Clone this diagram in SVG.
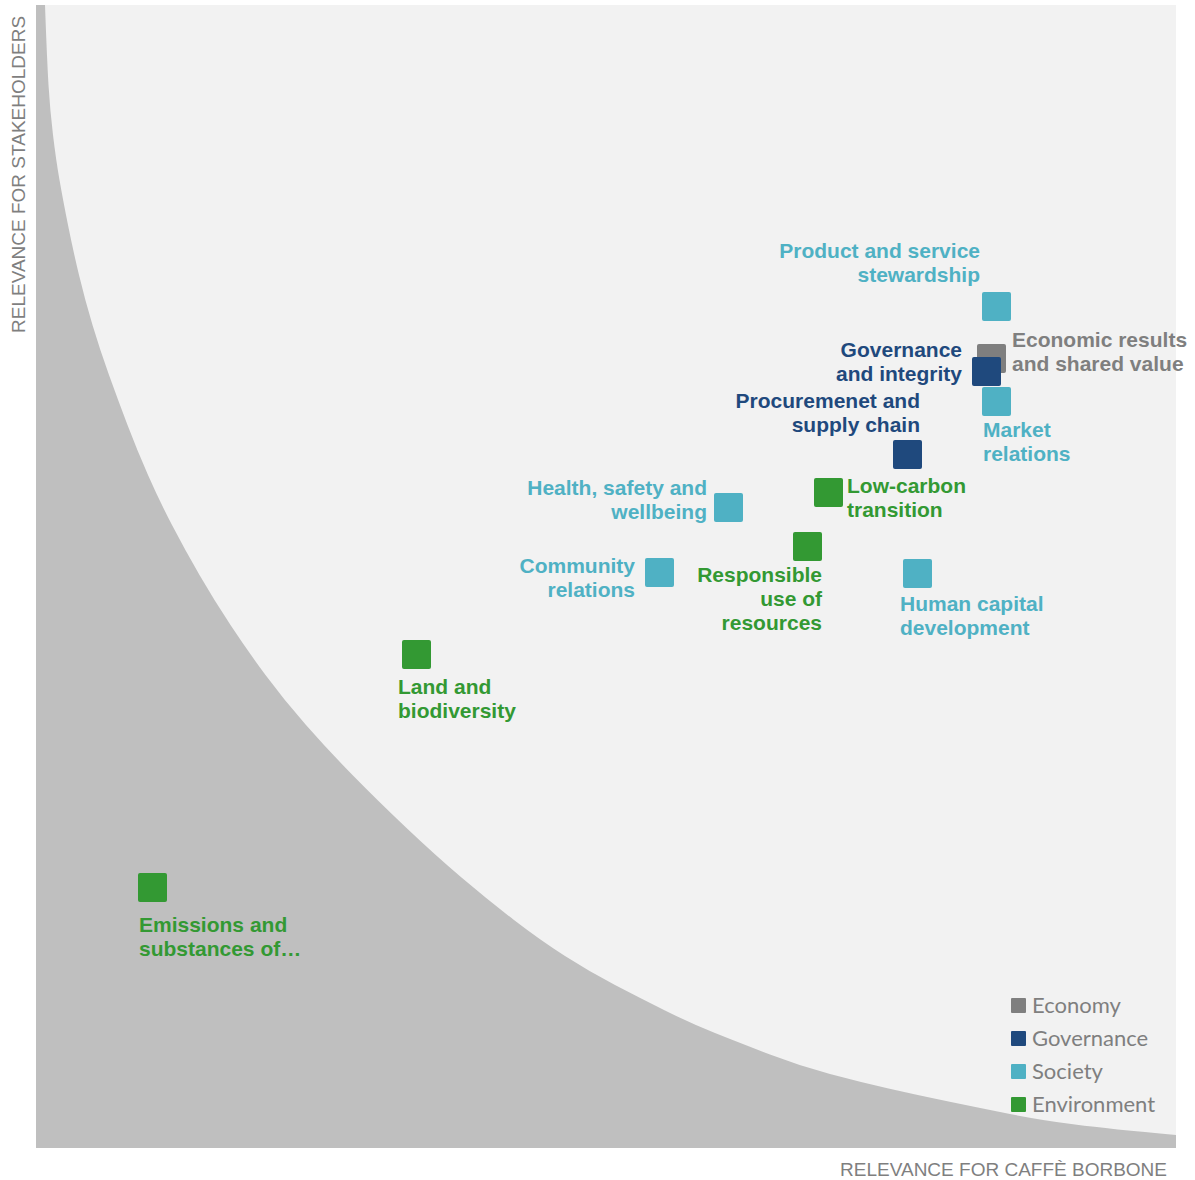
<svg xmlns="http://www.w3.org/2000/svg" width="1195" height="1180" viewBox="0 0 1195 1180">
  <style>
    .lbl { font-family: "Liberation Sans", Arial, sans-serif; font-size: 21px; font-weight: bold; }
    .axis { font-family: "Liberation Sans", Arial, sans-serif; font-size: 19px; fill: #7f7f7f; }
    .leg { font-family: Lato, "Liberation Sans", sans-serif; font-size: 22px; fill: #7f7f7f; }
    .soc { fill: #4fb1c4; }
    .gov { fill: #1f497d; }
    .env { fill: #339933; }
    .eco { fill: #7f7f7f; }
    .end { text-anchor: end; }
  </style>
  <rect x="0" y="0" width="1195" height="1180" fill="#ffffff"/>
  <g id="plot-area">
    <rect x="36" y="5" width="1140" height="1143" fill="#f2f2f2"/>
    <path fill="#bfbfbf" d="M36,5 L45,5 Q47,60 48.5,85 Q50,110 53,135 Q56,160 59.5,180 Q63,200 68,225 Q73,250 79,275 Q85,300 92.5,325 Q100,350 109,375 Q118,400 127.5,425 Q137,450 148,475 Q159,500 172,525 Q185,550 199.5,575 Q214,600 230.5,625 Q247,650 265.5,675 Q284,700 306,725 Q328,750 352.5,775 Q377,800 406,827.5 Q435,855 461.5,877.5 Q488,900 514,920 Q540,940 565,956 Q590,972 615,985 Q640,998 665,1010.5 Q690,1023 715,1033 Q740,1043 770,1054.5 Q800,1066 830,1074 Q860,1082 888.5,1088.5 Q917,1095 948.5,1101.5 Q980,1108 1010,1114 Q1040,1120 1075,1124.5 Q1110,1129 1176,1135 L1176,1148 L36,1148 Z"/>
  </g>
  <g id="axis-labels">
    <text class="axis" transform="translate(25,333) rotate(-90)">RELEVANCE FOR STAKEHOLDERS</text>
    <text class="axis end" x="1167" y="1176">RELEVANCE FOR CAFFÈ BORBONE</text>
  </g>
  <g id="connectors"></g>
  <g id="node-product-service">
    <rect class="soc" x="982" y="292" width="29" height="29" rx="2"/>
    <text class="lbl soc end" x="980" y="258">Product and service</text>
    <text class="lbl soc end" x="980" y="282">stewardship</text>
  </g>
  <g id="node-economic-results">
    <rect class="eco" x="977" y="344" width="29" height="29" rx="2"/>
    <text class="lbl eco" x="1012" y="347">Economic results</text>
    <text class="lbl eco" x="1012" y="371">and shared value</text>
  </g>
  <g id="node-governance">
    <rect class="gov" x="972" y="357" width="29" height="29" rx="2"/>
    <text class="lbl gov end" x="962" y="357">Governance</text>
    <text class="lbl gov end" x="962" y="381">and integrity</text>
  </g>
  <g id="node-market-relations">
    <rect class="soc" x="982" y="387" width="29" height="29" rx="2"/>
    <text class="lbl soc" x="983" y="437">Market</text>
    <text class="lbl soc" x="983" y="461">relations</text>
  </g>
  <g id="node-procurement">
    <rect class="gov" x="893" y="440" width="29" height="29" rx="2"/>
    <text class="lbl gov end" x="920" y="408">Procuremenet and</text>
    <text class="lbl gov end" x="920" y="432">supply chain</text>
  </g>
  <g id="node-low-carbon">
    <rect class="env" x="814" y="478" width="29" height="29" rx="2"/>
    <text class="lbl env" x="847" y="493">Low-carbon</text>
    <text class="lbl env" x="847" y="517">transition</text>
  </g>
  <g id="node-health-safety">
    <rect class="soc" x="714" y="493" width="29" height="29" rx="2"/>
    <text class="lbl soc end" x="707" y="495">Health, safety and</text>
    <text class="lbl soc end" x="707" y="519">wellbeing</text>
  </g>
  <g id="node-responsible-use">
    <rect class="env" x="793" y="532" width="29" height="29" rx="2"/>
    <text class="lbl env end" x="822" y="582">Responsible</text>
    <text class="lbl env end" x="822" y="606">use of</text>
    <text class="lbl env end" x="822" y="630">resources</text>
  </g>
  <g id="node-community">
    <rect class="soc" x="645" y="558" width="29" height="29" rx="2"/>
    <text class="lbl soc end" x="635" y="573">Community</text>
    <text class="lbl soc end" x="635" y="597">relations</text>
  </g>
  <g id="node-human-capital">
    <rect class="soc" x="903" y="559" width="29" height="29" rx="2"/>
    <text class="lbl soc" x="900" y="611">Human capital</text>
    <text class="lbl soc" x="900" y="635">development</text>
  </g>
  <g id="node-land-biodiversity">
    <rect class="env" x="402" y="640" width="29" height="29" rx="2"/>
    <text class="lbl env" x="398" y="694">Land and</text>
    <text class="lbl env" x="398" y="718">biodiversity</text>
  </g>
  <g id="node-emissions">
    <rect class="env" x="138" y="873" width="29" height="29" rx="2"/>
    <text class="lbl env" x="139" y="932">Emissions and</text>
    <text class="lbl env" x="139" y="956">substances of…</text>
  </g>
  <g id="legend">
    <rect class="eco" x="1011" y="998" width="15" height="15" rx="1"/>
    <text class="leg" x="1032" y="1013">Economy</text>
    <rect class="gov" x="1011" y="1031" width="15" height="15" rx="1"/>
    <text class="leg" x="1032" y="1046">Governance</text>
    <rect class="soc" x="1011" y="1064" width="15" height="15" rx="1"/>
    <text class="leg" x="1032" y="1079">Society</text>
    <rect class="env" x="1011" y="1097" width="15" height="15" rx="1"/>
    <text class="leg" x="1032" y="1112">Environment</text>
  </g>
</svg>
